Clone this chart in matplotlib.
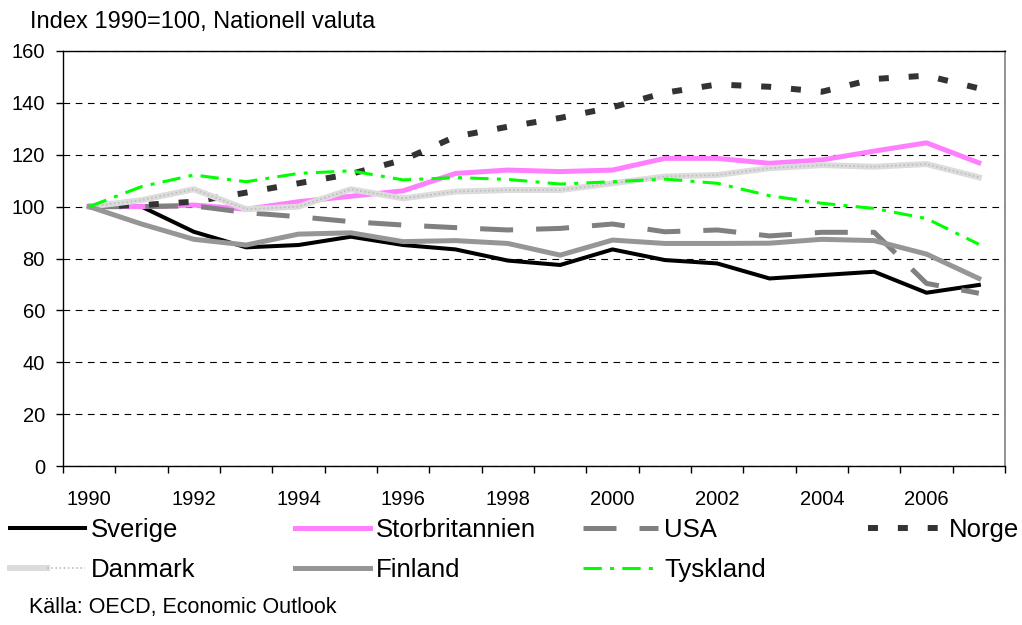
import numpy as np
import matplotlib
matplotlib.use("Agg")
import matplotlib.pyplot as plt
from matplotlib.legend_handler import HandlerTuple

plt.rcParams['font.family'] = ['Liberation Sans', 'DejaVu Sans']

years = list(range(1990, 2008))
sverige = [100, 100, 90.3, 84.3, 85.2, 88.4, 85.2, 83.5, 79.2, 77.5, 83.5, 79.4, 78.1, 72.3, 73.6, 74.9, 66.8, 69.8]
storbritannien = [100, 100, 100.6, 99, 101.9, 104, 106.1, 112.8, 114.1, 113.5, 114.1, 118.6, 118.6, 116.7, 118, 121.4, 124.6, 116.9]
usa = [100, 100, 100.3, 97.7, 96.1, 94.2, 92.9, 91.9, 91, 91.6, 93.3, 90.3, 91, 88.7, 90.1, 90.1, 70.4, 66.6]
norge = [100, 100.6, 101.9, 105.4, 109, 112.6, 118, 127, 130.8, 134.2, 138.3, 143.9, 147.1, 146.2, 144.3, 149.2, 150.5, 145.6]
danmark = [100, 102.5, 106.7, 99, 100, 106.7, 103.2, 105.8, 106.4, 106.4, 109, 111.6, 112.2, 114.8, 116, 115.4, 116.4, 111.3]
finland = [100, 93.3, 87.4, 85.2, 89.4, 89.9, 86.5, 86.9, 85.8, 81.3, 87.1, 85.8, 85.8, 85.9, 87.4, 86.9, 81.7, 72.3]
tyskland = [100, 107.7, 112.2, 109.6, 112.8, 113.8, 110.3, 111.2, 110.5, 108.7, 109.6, 110.6, 109, 104.2, 101.3, 99.3, 95.4, 85.5]

W, H = 1022, 625
fig = plt.figure(figsize=(W / 100, H / 100), dpi=100)
ax = fig.add_axes([63 / W, 1 - 466 / H, (1005 - 63) / W, (466 - 51) / H])

x = np.arange(len(years))

l_sve, = ax.plot(x, sverige, color='black', lw=2.9, solid_joinstyle='round')
l_gbr, = ax.plot(x, storbritannien, color='#ff80ff', lw=3.6)
l_usa, = ax.plot(x, usa, color='#808080', lw=3.6, linestyle=(0, (6.6, 4.6)))
l_nor, = ax.plot(x, norge, color='#333333', lw=4.3, linestyle=(0, (1.67, 3.33)))
l_dan, = ax.plot(x, danmark, color='#dcdcdc', lw=4.3)
l_dan2, = ax.plot(x, danmark, color='#bdbdbd', lw=1.2, linestyle=(0, (1, 1.5)))
l_fin, = ax.plot(x, finland, color='#969696', lw=3.6)
l_tys, = ax.plot(x, tyskland, color='#00ff00', lw=2.2, linestyle=(0, (6, 2.7, 1.3, 2.7)))

ax.set_xlim(-0.5, len(years) - 0.5)
ax.set_ylim(0, 160)
ax.set_yticks(range(0, 161, 20))
ax.yaxis.grid(True, linestyle=(0, (6, 5)), color='black', lw=0.8)
ax.set_axisbelow(True)

ax.set_xticks(x[::2])
ax.set_xticklabels([str(y) for y in years[::2]])
ax.set_xticks(np.arange(-0.5, len(years)), minor=True)
ax.tick_params(axis='x', which='major', length=0, pad=17, labelsize=14.5)
ax.tick_params(axis='x', which='minor', length=5, width=1, direction='out')
ax.tick_params(axis='y', length=5, width=1, direction='out', pad=8, labelsize=14.5)

for s in ['left', 'bottom', 'top']:
    ax.spines[s].set_color('black')
    ax.spines[s].set_linewidth(1)
ax.spines['right'].set_color('#808080')
ax.spines['right'].set_linewidth(1.2)

fig.text(30 / W, 1 - 22 / H, 'Index 1990=100, Nationell valuta', fontsize=17, va='center')

# legend, one block per column like the Excel layout
cols = [
    ([l_sve, (l_dan, l_dan2)], ['Sverige', 'Danmark'], 10),
    ([l_gbr, l_fin], ['Storbritannien', 'Finland'], 295),
    ([l_usa, l_tys], ['USA', 'Tyskland'], 583),
    ([l_nor], ['Norge'], 868),
]
for handles, labels, px in cols:
    leg = fig.legend(handles, labels, loc='upper left', bbox_to_anchor=(px / W, 1 - 518 / H),
                     frameon=False, fontsize=18.5, handlelength=2.9, handletextpad=0.25,
                     borderpad=0, borderaxespad=0, labelspacing=0.62,
                     handler_map={tuple: HandlerTuple(ndivide=None, pad=0)})

fig.text(29 / W, 1 - 607 / H, 'Källa: OECD, Economic Outlook', fontsize=15.5, va='center')

fig.savefig('out.png', dpi=100)
